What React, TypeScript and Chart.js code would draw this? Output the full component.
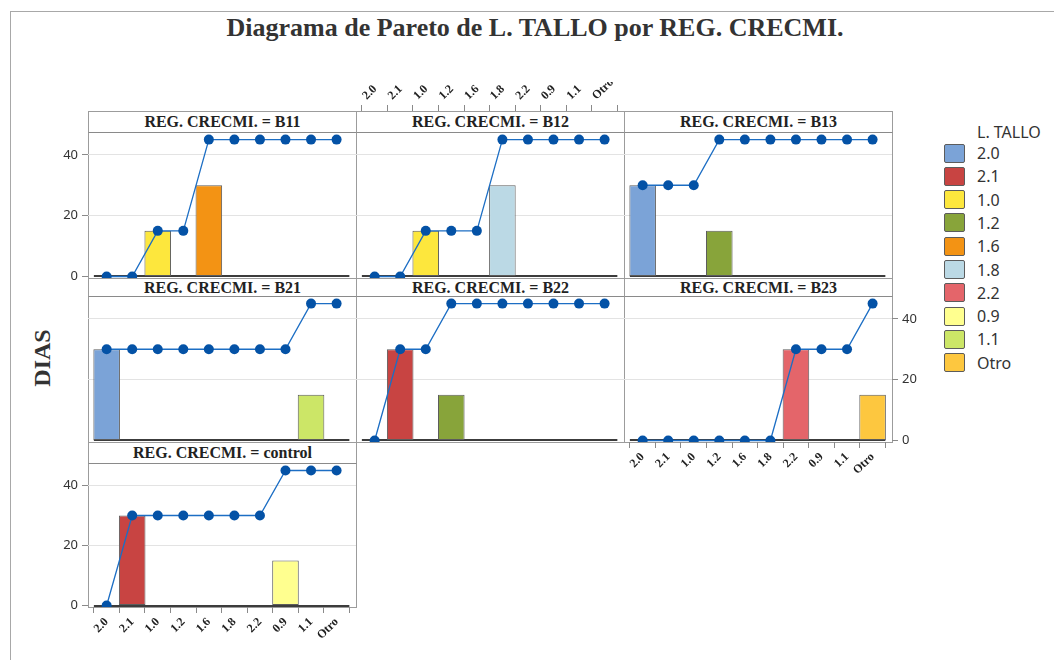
import React, { useEffect, useRef } from "react";
import { Chart, registerables } from "chart.js";

Chart.register(...registerables);

// ---------- data ----------
const categories = ["2.0", "2.1", "1.0", "1.2", "1.6", "1.8", "2.2", "0.9", "1.1", "Otro"];
const categoryColors = ["#7BA3D7", "#C84442", "#FDE73D", "#88A43A", "#F39314", "#BBD9E5", "#E4656A", "#FFFF8F", "#CCE667", "#FDC73F"];
const panelNames = ["B11", "B12", "B13", "B21", "B22", "B23", "control"];
const diasB11 = [0, 0, 15, 0, 30, 0, 0, 0, 0, 0];
const diasB12 = [0, 0, 15, 0, 0, 30, 0, 0, 0, 0];
const diasB13 = [30, 0, 0, 15, 0, 0, 0, 0, 0, 0];
const diasB21 = [30, 0, 0, 0, 0, 0, 0, 0, 15, 0];
const diasB22 = [0, 30, 0, 15, 0, 0, 0, 0, 0, 0];
const diasB23 = [0, 0, 0, 0, 0, 0, 30, 0, 0, 15];
const diasControl = [0, 30, 0, 0, 0, 0, 0, 15, 0, 0];
const yTicks = [0, 20, 40];
const chartTitle = "Diagrama de Pareto de L. TALLO por REG. CRECMI.";
const yTitle = "DIAS";
const legendTitle = "L. TALLO";
const stripPrefix = "REG. CRECMI. = ";

// ---------- layout ----------
const COLS = [88, 356, 624];
const PW = 268;
const ROWS = [
  { strip: 111, top: 132, bottom: 278 },
  { strip: 278, top: 296, bottom: 442 },
  { strip: 442, top: 463, bottom: 607 },
];
const M = 60;
const YW = 40;
const XH = 50;

type Panel = {
  name: string;
  values: number[];
  row: number;
  col: number;
  y: "left" | "right" | null;
  x: "top" | "bottom" | null;
};

const panels: Panel[] = [
  { name: panelNames[0], values: diasB11, row: 0, col: 0, y: "left", x: null },
  { name: panelNames[1], values: diasB12, row: 0, col: 1, y: null, x: "top" },
  { name: panelNames[2], values: diasB13, row: 0, col: 2, y: null, x: null },
  { name: panelNames[3], values: diasB21, row: 1, col: 0, y: null, x: null },
  { name: panelNames[4], values: diasB22, row: 1, col: 1, y: null, x: null },
  { name: panelNames[5], values: diasB23, row: 1, col: 2, y: "right", x: "bottom" },
  { name: panelNames[6], values: diasControl, row: 2, col: 0, y: "left", x: "bottom" },
];

const baselinePlugin = {
  id: "baseline",
  beforeDatasetsDraw(chart: any) {
    const { ctx, scales } = chart;
    const x = scales.x;
    const y = scales.y;
    const yy = Math.round(y.getPixelForValue(0));
    ctx.save();
    ctx.strokeStyle = "#3c3c3c";
    ctx.lineWidth = 2;
    ctx.beginPath();
    ctx.moveTo(x.getPixelForValue(-0.5), yy);
    ctx.lineTo(x.getPixelForValue(categories.length - 0.5), yy);
    ctx.stroke();
    ctx.restore();
  },
};

function PanelChart({ p }: { p: Panel }) {
  const ref = useRef<HTMLCanvasElement>(null);
  const r = ROWS[p.row];
  const plotH = r.bottom - r.top;
  const w = PW + 2 * M;
  const h = plotH + 2 * M;

  useEffect(() => {
    let acc = 0;
    const cum = p.values.map((v) => (acc += v));
    const chart = new Chart(ref.current as HTMLCanvasElement, {
      type: "bar",
      data: {
        datasets: [
          {
            type: "line",
            data: cum.map((v, i) => ({ x: i, y: v })),
            borderColor: "#1C6EC4",
            borderWidth: 1.3,
            pointRadius: 5,
            pointBackgroundColor: "#0452A6",
            pointBorderColor: "#0452A6",
            pointBorderWidth: 0,
            tension: 0,
            order: 0,
          } as any,
          {
            type: "bar",
            data: p.values.map((v, i) => ({ x: i, y: v })),
            backgroundColor: categoryColors,
            borderColor: "#5c5c5c",
            borderWidth: 1,
            borderSkipped: false,
            barPercentage: 1.04,
            categoryPercentage: 1,
            order: 1,
          } as any,
        ],
      },
      options: {
        responsive: false,
        animation: false,
        events: [],
        layout: {
          padding: {
            left: M - (p.y === "left" ? YW : 0),
            right: M - (p.y === "right" ? YW : 0),
            top: M - (p.x === "top" ? XH : 0),
            bottom: M - (p.x === "bottom" ? XH : 0),
          },
        },
        plugins: { legend: { display: false }, tooltip: { enabled: false } },
        scales: {
          x: {
            type: "linear",
            offset: false,
            min: -0.73,
            max: categories.length - 1 + 0.76,
            display: p.x !== null,
            position: p.x || "bottom",
            border: { display: false },
            grid: {
              drawOnChartArea: false,
              drawTicks: true,
              tickLength: p.x === "top" ? 27 : 6,
              tickColor: "#8a8a8a",
            },
            ticks: {
              autoSkip: false,
              minRotation: 45,
              maxRotation: 45,
              padding: 2,
              color: "#222",
              font: { family: "'Liberation Serif', serif", size: 12, weight: "bold" },
              callback: (v: any) => categories[v] ?? "",
            },
            afterBuildTicks: (s: any) => {
              s.ticks = categories.map((_, i) => ({ value: i }));
            },
            afterFit: (s: any) => {
              s.height = p.x ? XH : 0;
              s.paddingLeft = 0;
              s.paddingRight = 0;
            },
          } as any,
          y: {
            type: "linear",
            min: -0.5,
            max: 47.5,
            position: p.y === "right" ? "right" : "left",
            border: { display: false },
            grid: {
              color: (c: any) => (c.tick && c.tick.value === 0 ? "rgba(0,0,0,0)" : "#e3e3e3"),
              drawTicks: p.y !== null,
              tickLength: 6,
              tickColor: "#8a8a8a",
            },
            ticks: {
              display: p.y !== null,
              padding: 4,
              color: "#333",
              font: { family: "'Noto Sans', sans-serif", size: 13 },
            },
            afterBuildTicks: (s: any) => {
              s.ticks = yTicks.map((v) => ({ value: v }));
            },
            afterFit: (s: any) => {
              s.width = p.y ? YW : 0;
              s.paddingTop = 0;
              s.paddingBottom = 0;
            },
          } as any,
        },
      },
      plugins: [baselinePlugin],
    });
    return () => chart.destroy();
  }, []);

  return (
    <canvas
      ref={ref}
      width={w}
      height={h}
      style={{
        position: "absolute",
        left: COLS[p.col] - M,
        top: r.top - M,
        width: w,
        height: h,
        zIndex: 2,
      }}
    />
  );
}

const border = "1px solid #9c9c9c";

export default function App() {
  return (
    <div
      style={{
        position: "absolute",
        left: 0,
        top: 0,
        width: 1054,
        height: 660,
        overflow: "hidden",
        background: "#fff",
      }}
    >
      {/* outer frame */}
      <div
        style={{
          position: "absolute",
          left: 10,
          top: 11,
          width: 1100,
          height: 700,
          border: "1px solid #a8a8a8",
        }}
      />
      {/* title */}
      <div
        style={{
          position: "absolute",
          left: 0,
          top: 12,
          width: 1070,
          textAlign: "center",
          fontFamily: "'Liberation Serif', serif",
          fontWeight: "bold",
          fontSize: 26,
          lineHeight: "32px",
          color: "#333",
          whiteSpace: "nowrap",
        }}
      >
        {chartTitle}
      </div>
      {/* y title */}
      <div
        style={{
          position: "absolute",
          left: 42,
          top: 358,
          transform: "translate(-50%, -50%) rotate(-90deg)",
          fontFamily: "'Liberation Serif', serif",
          fontWeight: "bold",
          fontSize: 24,
          lineHeight: "28px",
          color: "#333",
          whiteSpace: "nowrap",
        }}
      >
        {yTitle}
      </div>
      {/* panel frames */}
      {panels.map((p) => {
        const r = ROWS[p.row];
        return (
          <div
            key={"f" + p.name}
            style={{
              position: "absolute",
              left: COLS[p.col],
              top: r.strip,
              width: PW + 1,
              height: r.bottom - r.strip + 1,
              border,
              boxSizing: "border-box",
              zIndex: 1,
            }}
          />
        );
      })}
      {panels.map((p) => (
        <PanelChart key={"c" + p.name} p={p} />
      ))}
      {/* strips */}
      {panels.map((p) => {
        const r = ROWS[p.row];
        const sh = r.top - r.strip + 1;
        return (
          <div
            key={"s" + p.name}
            style={{
              position: "absolute",
              left: COLS[p.col],
              top: r.strip,
              width: PW + 1,
              height: sh,
              border,
              borderBottom: "1px solid #8a8a8a",
              boxSizing: "border-box",
              background: "#fff",
              zIndex: 3,
              textAlign: "center",
              fontFamily: "'Liberation Serif', serif",
              fontWeight: "bold",
              fontSize: 16,
              lineHeight: sh - 2 + "px",
              color: "#222",
              whiteSpace: "nowrap",
              overflow: "hidden",
            }}
          >
            {stripPrefix + p.name}
          </div>
        );
      })}
      {/* legend */}
      <div
        style={{
          position: "absolute",
          left: 977,
          top: 121,
          fontFamily: "'Noto Sans', sans-serif",
          fontSize: 16,
          lineHeight: "22px",
          color: "#333",
          whiteSpace: "nowrap",
        }}
      >
        {legendTitle}
      </div>
      {categories.map((c, i) => {
        const cy = 153 + i * 23.3;
        return (
          <React.Fragment key={"l" + c}>
            <div
              style={{
                position: "absolute",
                left: 944,
                top: cy - 9.5,
                width: 21,
                height: 19,
                boxSizing: "border-box",
                border: "1px solid #5c5c5c",
                borderRadius: 2,
                background: categoryColors[i],
              }}
            />
            <div
              style={{
                position: "absolute",
                left: 977,
                top: cy - 11,
                fontFamily: "'Noto Sans', sans-serif",
                fontSize: 16,
                lineHeight: "22px",
                color: "#333",
                whiteSpace: "nowrap",
              }}
            >
              {c}
            </div>
          </React.Fragment>
        );
      })}
    </div>
  );
}
